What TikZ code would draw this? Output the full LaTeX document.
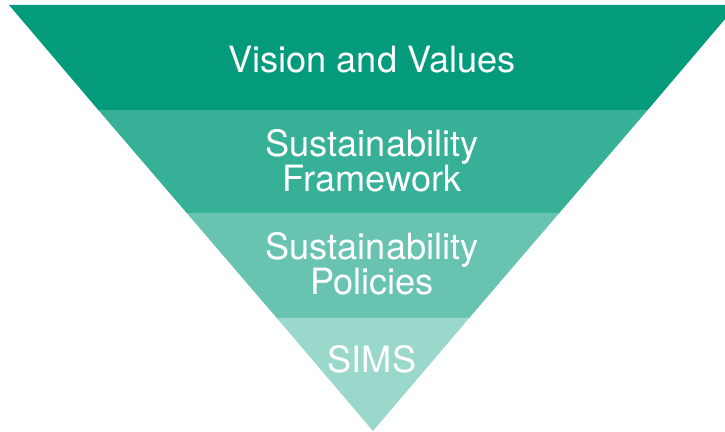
\documentclass[tikz,border=0pt]{standalone}
\usepackage{fontspec}
\setmainfont{TeX Gyre Heros}
\definecolor{tierA}{RGB}{3,155,124}
\definecolor{tierB}{RGB}{54,176,150}
\definecolor{tierC}{RGB}{104,196,176}
\definecolor{tierD}{RGB}{155,216,204}
\tikzset{tiertext/.style={text=white,align=center,inner sep=0pt,font=\fontsize{20.6}{19.9}\selectfont}}
\begin{document}
\begin{tikzpicture}[x=0.02cm,y=-0.02cm]
		\useasboundingbox (0,0) rectangle (725,432);
		\clip (0,0) rectangle (725,432);
		\begin{scope}
		\coordinate (a1) at (9,5);
		\coordinate (a2) at (737,5);
		\coordinate (b1) at (98.3,110);
		\coordinate (b2) at (647.7,110);
		\coordinate (c1) at (186.7,213);
		\coordinate (c2) at (559.3,213);
		\coordinate (d1) at (276.8,318);
		\coordinate (d2) at (469.2,318);
		\coordinate (tip) at (373,431);
		\fill[tierA] (a1) -- (a2) -- (b2) -- (b1) -- cycle;
		\fill[tierB] (b1) -- (b2) -- (c2) -- (c1) -- cycle;
		\fill[tierC] (c1) -- (c2) -- (d2) -- (d1) -- cycle;
		\fill[tierD] (d1) -- (d2) -- (tip) -- cycle;
		\node[tiertext] (vision) at (372,60) {Vision and Values};
		\node[tiertext] (framework) at (372,161) {Sustainability\\Framework};
		\node[tiertext] (policies) at (372,264) {Sustainability\\Policies};
		\node[tiertext] (sims) at (372,359) {SIMS};
		\end{scope}
\end{tikzpicture}
\end{document}
